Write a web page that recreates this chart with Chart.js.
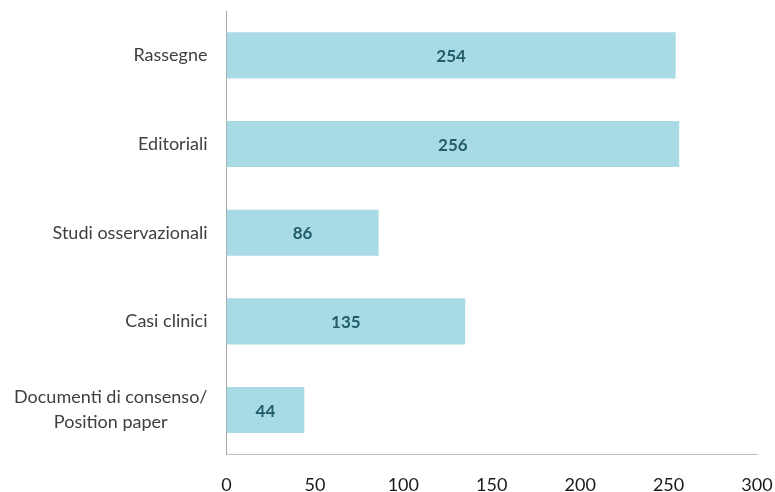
<!DOCTYPE html>
<html><head><meta charset="utf-8">
<script src="https://cdn.jsdelivr.net/npm/chart.js@4"></script>
<style>html,body{margin:0;padding:0;background:#fff}#wrap{width:775px;height:492px}</style>
</head><body><div id="wrap"><canvas id="c" width="775" height="492"></canvas></div>
<script>
const categories = [["Rassegne"], ["Editoriali"], ["Studi osservazionali"], ["Casi clinici"], ["Documenti di consenso/", "Position paper"]];
const values = [254, 256, 86, 135, 44];
const xTicks = [0, 50, 100, 150, 200, 250, 300];

const FONT = "Lato, 'Open Sans', sans-serif";
const CAT_SIZE = 18;

const labelPlugin = {
  id: 'labels',
  afterDatasetsDraw(chart) {
    const ctx = chart.ctx;
    const meta = chart.getDatasetMeta(0);
    ctx.save();
    ctx.font = "bold 17px " + FONT;
    ctx.fillStyle = '#215d6a';
    ctx.textAlign = 'center';
    ctx.textBaseline = 'middle';
    meta.data.forEach((bar, i) => {
      const p = bar.getProps(['x', 'y', 'base'], true);
      ctx.fillText(String(values[i]), (p.x + p.base) / 2, p.y + 1);
    });
    ctx.restore();
  },
  afterDraw(chart) {
    const ctx = chart.ctx;
    const y = chart.scales.y;
    ctx.save();
    ctx.font = CAT_SIZE + "px " + FONT;
    ctx.fillStyle = '#404040';
    ctx.textAlign = 'center';
    ctx.textBaseline = 'middle';
    const right = y.right - 19;
    const lh = 25;
    categories.forEach((lines, i) => {
      const cy = y.getPixelForValue(i);
      const maxW = Math.max(...lines.map(l => ctx.measureText(l).width));
      const cx = right - maxW / 2;
      const start = cy - (lines.length - 1) * lh / 2;
      lines.forEach((l, j) => ctx.fillText(l, cx, start + j * lh));
    });
    ctx.restore();
  }
};

new Chart(document.getElementById('c'), {
  type: 'bar',
  data: {
    labels: categories,
    datasets: [{
      data: values,
      backgroundColor: '#a8dbe3',
      borderWidth: 0,
      categoryPercentage: 1,
      barPercentage: 0.52
    }]
  },
  options: {
    indexAxis: 'y',
    responsive: false,
    animation: false,
    layout: { padding: { left: -5, right: 18, top: 11, bottom: -24 } },
    plugins: { legend: { display: false }, tooltip: { enabled: false } },
    scales: {
      x: {
        min: 0, max: 300,
        afterBuildTicks(s) { s.ticks = xTicks.map(v => ({ value: v })); },
        afterFit(s) { s.paddingLeft = 0; s.paddingRight = 0; },
        grid: { display: false, drawTicks: false },
        border: { display: true, color: '#bfbfbf', width: 1 },
        ticks: { color: '#1a1a1a', font: { family: FONT, size: 18 }, padding: 20 }
      },
      y: {
        afterFit(s) { s.paddingTop = 0; s.paddingBottom = 0; },
        grid: { display: false, drawTicks: false },
        border: { display: true, color: '#a6a6a6', width: 1 },
        ticks: { color: 'rgba(0,0,0,0)', font: { family: FONT, size: CAT_SIZE }, padding: 19 }
      }
    }
  },
  plugins: [labelPlugin]
});
</script></body></html>
